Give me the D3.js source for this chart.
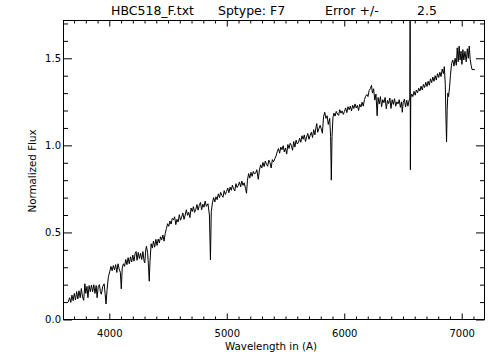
<!DOCTYPE html>
<html><head><meta charset="utf-8">
<script src="https://cdn.jsdelivr.net/npm/d3@7"></script>
<style>
body{margin:0;background:#fff}
svg{display:block}
text{font-family:"DejaVu Sans",sans-serif;fill:#000}
</style>
</head><body>
<svg id="c" width="504" height="360"></svg>
<script>
const titleTexts = ["HBC518_F.txt", "Sptype: F7", "Error +/-", "2.5"];
const xLabel = "Wavelength in (A)";
const yLabel = "Normalized Flux";
const xMajorTicks = [4000, 5000, 6000, 7000];
const yMajorTicks = [0.0, 0.5, 1.0, 1.5];

const wavelength = [
3650,3662,3672,3682,3692,3702,3712,3722,3732,3742,
3752,3762,3772,3782,3792,3800,3810,3818,3828,3838,
3848,3858,3868,3878,3888,3896,3906,3916,3924,3932,
3944,3956,3964,3972,3980,3992,4004,4014,4024,4034,
4044,4054,4064,4074,4084,4094,4102,4110,4120,4130,
4140,4150,4160,4170,4180,4190,4200,4210,4220,4228,
4236,4246,4256,4266,4276,4286,4296,4302,4310,4316,
4326,4334,4340,4346,4356,4366,4376,4386,4396,4406,
4416,4426,4436,4446,4456,4466,4476,4486,4496,4506,
4516,4526,4536,4546,4556,4566,4576,4586,4596,4606,
4616,4626,4636,4646,4656,4666,4676,4686,4696,4706,
4716,4726,4736,4746,4756,4766,4776,4786,4796,4806,
4816,4826,4840,4852,4861,4868,4878,4888,4898,4908,
4918,4928,4938,4948,4958,4968,4978,4988,4998,5008,
5018,5028,5038,5048,5058,5068,5078,5088,5098,5108,
5118,5128,5138,5148,5160,5168,5176,5186,5196,5206,
5216,5226,5236,5246,5256,5268,5278,5288,5298,5308,
5318,5328,5338,5348,5358,5368,5378,5388,5398,5410,
5420,5430,5440,5450,5460,5470,5480,5490,5500,5510,
5520,5530,5540,5550,5560,5570,5580,5590,5600,5610,
5620,5630,5640,5650,5660,5670,5680,5690,5700,5710,
5720,5730,5740,5750,5760,5766,5774,5784,5794,5804,
5814,5824,5834,5844,5854,5864,5876,5884,5890,5896,
5904,5912,5922,5932,5942,5952,5962,5972,5982,5992,
6002,6012,6022,6032,6042,6052,6062,6072,6082,6092,
6102,6112,6122,6132,6142,6152,6162,6172,6182,6192,
6202,6212,6222,6232,6240,6250,6260,6270,6280,6288,
6298,6308,6318,6328,6338,6348,6358,6368,6378,6388,
6398,6408,6418,6428,6438,6448,6458,6468,6478,6488,
6494,6502,6512,6522,6532,6542,6552,6558,6561,6563,
6566,6574,6584,6594,6604,6614,6624,6634,6644,6654,
6664,6674,6684,6694,6704,6714,6724,6734,6744,6754,
6764,6774,6784,6794,6804,6814,6824,6834,6844,6852,
6860,6866,6871,6876,6882,6888,6896,6904,6914,6924,
6934,6944,6954,6962,6970,6978,6986,6994,7002,7010,
7018,7028,7038,7048,7056,7064,7072,7080,7088,7112
];

const flux = [
0.100,0.125,0.098,0.140,0.108,0.150,0.112,0.160,0.118,0.165,
0.125,0.178,0.130,0.110,0.205,0.150,0.190,0.125,0.195,0.160,
0.198,0.160,0.200,0.150,0.195,0.125,0.190,0.200,0.160,0.145,
0.190,0.205,0.150,0.089,0.165,0.245,0.276,0.305,0.280,0.310,
0.285,0.315,0.270,0.320,0.290,0.270,0.176,0.295,0.320,0.305,
0.345,0.315,0.355,0.320,0.360,0.330,0.370,0.335,0.380,0.390,
0.340,0.385,0.350,0.380,0.345,0.390,0.335,0.325,0.400,0.420,
0.385,0.300,0.220,0.330,0.435,0.410,0.450,0.415,0.460,0.425,
0.462,0.440,0.475,0.458,0.485,0.450,0.495,0.522,0.550,0.535,
0.565,0.548,0.580,0.572,0.590,0.545,0.575,0.560,0.602,0.570,
0.588,0.612,0.575,0.600,0.630,0.598,0.615,0.585,0.640,0.620,
0.648,0.615,0.632,0.660,0.628,0.655,0.672,0.630,0.662,0.645,
0.680,0.650,0.665,0.600,0.343,0.620,0.670,0.700,0.675,0.705,
0.688,0.722,0.700,0.730,0.712,0.702,0.740,0.718,0.735,0.755,
0.728,0.760,0.742,0.772,0.750,0.738,0.780,0.758,0.770,0.790,
0.762,0.795,0.770,0.785,0.752,0.725,0.800,0.838,0.812,0.845,
0.822,0.850,0.835,0.842,0.860,0.805,0.858,0.888,0.870,0.902,
0.878,0.910,0.892,0.880,0.915,0.900,0.870,0.918,0.905,0.925,
0.940,0.965,0.982,0.955,0.990,0.975,0.998,0.962,0.985,0.950,
1.005,0.982,1.012,1.000,0.972,1.022,0.990,1.030,1.008,1.015,
1.042,1.018,1.055,1.035,1.060,1.022,1.048,1.068,1.035,1.058,
1.075,1.045,1.090,1.060,1.105,1.125,1.075,1.095,1.115,1.095,
1.070,1.165,1.190,1.155,1.170,1.120,1.155,1.050,0.800,1.050,
1.160,1.185,1.168,1.195,1.180,1.172,1.205,1.185,1.198,1.178,
1.195,1.215,1.188,1.222,1.205,1.225,1.198,1.230,1.212,1.238,
1.215,1.230,1.200,1.236,1.220,1.248,1.225,1.262,1.282,1.292,
1.280,1.315,1.325,1.345,1.300,1.325,1.260,1.295,1.170,1.275,
1.238,1.280,1.222,1.262,1.245,1.275,1.210,1.258,1.240,1.272,
1.212,1.262,1.235,1.268,1.225,1.250,1.238,1.262,1.218,1.250,
1.190,1.245,1.265,1.220,1.260,1.225,1.260,1.260,1.760,0.860,
1.270,1.295,1.280,1.310,1.288,1.318,1.302,1.328,1.312,1.340,
1.318,1.350,1.332,1.362,1.338,1.368,1.345,1.382,1.360,1.392,
1.368,1.400,1.375,1.412,1.390,1.420,1.395,1.438,1.412,1.452,
1.350,1.150,1.020,1.200,1.300,1.280,1.330,1.400,1.470,1.490,
1.455,1.500,1.460,1.560,1.480,1.570,1.490,1.540,1.465,1.550,
1.490,1.540,1.480,1.555,1.500,1.570,1.495,1.460,1.435,1.435
];

const svg = d3.select("#c");
const L = 63.5, R = 484.5, T = 20.5, B = 319.5;
const x = d3.scaleLinear().domain([3610, 7194]).range([L, R]);
const y = d3.scaleLinear().domain([0, 1.717]).range([B, T]);

const xMinor = d3.range(3700, 7200, 100).filter(v => !xMajorTicks.includes(v));
const yMinor = d3.range(1, 18).map(i => i / 10).filter(v => !yMajorTicks.some(m => Math.abs(m - v) < 1e-6));

svg.append("clipPath").attr("id", "clip").append("rect")
  .attr("x", L).attr("y", T).attr("width", R - L).attr("height", B - T);

const pts = wavelength.map((w, i) => [w, flux[i]]);
svg.append("path").datum(pts)
  .attr("clip-path", "url(#clip)")
  .attr("fill", "none").attr("stroke", "#000").attr("stroke-width", 1)
  .attr("stroke-linejoin", "round")
  .attr("d", d3.line().x(d => x(d[0])).y(d => y(d[1])));

function styleAxis(g, fs) {
  g.select(".domain").remove();
  g.selectAll(".tick line").attr("stroke", "#000").attr("stroke-width", 1);
  g.attr("font-family", null).attr("font-size", null);
  g.selectAll("text").style("font-size", fs + "px").attr("fill", "#000");
}

svg.append("g").attr("transform", `translate(0,${B})`)
  .call(d3.axisBottom(x).tickValues(xMajorTicks).tickSizeInner(-6).tickSizeOuter(0).tickPadding(10).tickFormat(d3.format("d")))
  .call(g => styleAxis(g, 10));
svg.append("g").attr("transform", `translate(0,${B})`)
  .call(d3.axisBottom(x).tickValues(xMinor).tickSizeInner(-3).tickSizeOuter(0).tickFormat(""))
  .call(g => styleAxis(g, 10));
svg.append("g").attr("transform", `translate(0,${T})`)
  .call(d3.axisTop(x).tickValues(xMajorTicks).tickSizeInner(-6).tickSizeOuter(0).tickFormat(""))
  .call(g => styleAxis(g, 10));
svg.append("g").attr("transform", `translate(0,${T})`)
  .call(d3.axisTop(x).tickValues(xMinor).tickSizeInner(-3).tickSizeOuter(0).tickFormat(""))
  .call(g => styleAxis(g, 10));
svg.append("g").attr("transform", `translate(${L},0)`)
  .call(d3.axisLeft(y).tickValues(yMajorTicks).tickSizeInner(-8.5).tickSizeOuter(0).tickPadding(2.5).tickFormat(d3.format(".1f")))
  .call(g => styleAxis(g, 10));
svg.append("g").attr("transform", `translate(${L},0)`)
  .call(d3.axisLeft(y).tickValues(yMinor).tickSizeInner(-4.5).tickSizeOuter(0).tickFormat(""))
  .call(g => styleAxis(g, 10));
svg.append("g").attr("transform", `translate(${R},0)`)
  .call(d3.axisRight(y).tickValues(yMajorTicks).tickSizeInner(-8.5).tickSizeOuter(0).tickFormat(""))
  .call(g => styleAxis(g, 10));
svg.append("g").attr("transform", `translate(${R},0)`)
  .call(d3.axisRight(y).tickValues(yMinor).tickSizeInner(-4.5).tickSizeOuter(0).tickFormat(""))
  .call(g => styleAxis(g, 10));

svg.append("rect").attr("x", L).attr("y", T).attr("width", R - L).attr("height", B - T)
  .attr("fill", "none").attr("stroke", "#000").attr("stroke-width", 1);

const titleX = [111, 218, 325, 417];
svg.append("g").selectAll("text").data(titleTexts).join("text")
  .attr("x", (d, i) => titleX[i]).attr("y", 15)
  .style("font-size", "12.5px").style("white-space", "pre")
  .text(d => d);

svg.append("text").attr("x", 271).attr("y", 350).attr("text-anchor", "middle")
  .style("font-size", "10.3px").text(xLabel);
svg.append("text").attr("transform", "translate(36,171) rotate(-90)").attr("text-anchor", "middle")
  .style("font-size", "10.3px").text(yLabel);
</script>
</body></html>
